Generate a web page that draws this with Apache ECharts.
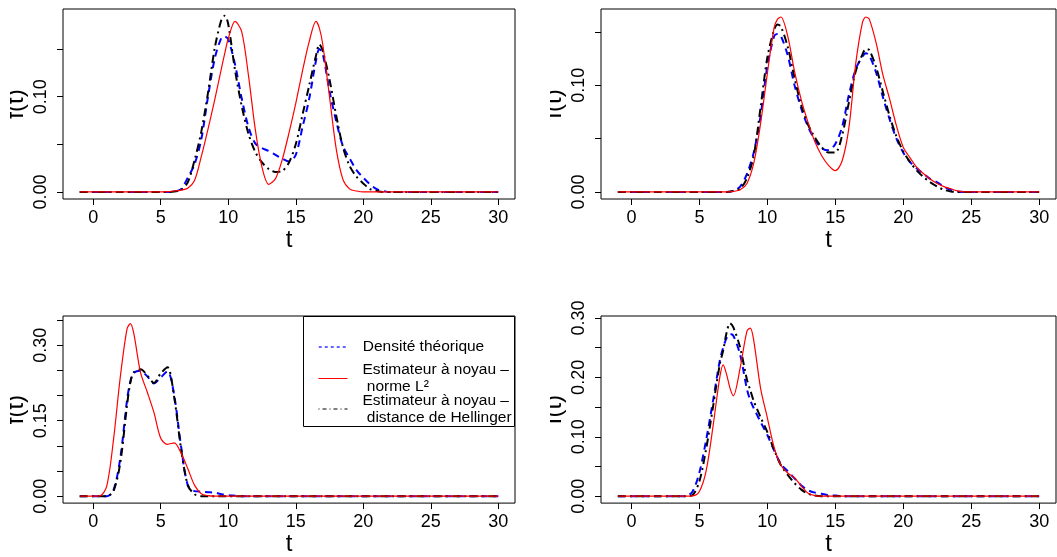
<!DOCTYPE html>
<html><head><meta charset="utf-8">
<script src="https://cdn.jsdelivr.net/npm/echarts@6/dist/echarts.min.js"></script>
<style>html,body{margin:0;padding:0;background:#fff}#c{width:1057px;height:557px}</style>
</head><body><div id="c"></div>
<script>
// ---------- data ----------
const seriesNames = ['Densité théorique', 'Estimateur à noyau – norme L²', 'Estimateur à noyau – distance de Hellinger'];
const xTickValues = [0, 5, 10, 15, 20, 25, 30];

// Panel 1 (top left)
const t1 = [-1,0,1,2,3,4, 5,5.5,6,6.5,7,7.5,8,8.5,9,9.5,9.75,10,10.5,11,11.5,12,12.5,13,13.5,14,14.5,15,15.5,16,16.5,16.75,17,17.5,18,18.5,19,19.5,20,20.5,21,21.5,22, 23,24,25,26,27,28,29,30];
const dens1 = [0,0,0,0,0,0, 0,0,0.0005,0.003,0.015,0.029,0.055,0.1,0.14,0.162,0.163,0.16,0.134,0.098,0.068,0.051,0.046,0.043,0.039,0.035,0.032,0.039,0.068,0.098,0.138,0.150,0.145,0.106,0.074,0.048,0.035,0.023,0.015,0.008,0.003,0.001,0, 0,0,0,0,0,0,0,0];
const l2_1 = [0,0,0,0,0,0, 0,0.0003,0.001,0.002,0.004,0.012,0.037,0.066,0.097,0.130,0.146,0.161,0.179,0.168,0.122,0.066,0.026,0.008,0.014,0.034,0.062,0.093,0.127,0.158,0.179,0.172,0.155,0.100,0.045,0.013,0.003,0.001,0,0,0,0,0, 0,0,0,0,0,0,0,0];
const hel1 = [0,0,0,0,0,0, 0,0,0.0005,0.002,0.01,0.033,0.063,0.104,0.151,0.181,0.185,0.176,0.128,0.09,0.061,0.042,0.031,0.024,0.021,0.022,0.031,0.05,0.081,0.112,0.143,0.155,0.148,0.118,0.08,0.047,0.027,0.016,0.009,0.003,0.001,0,0, 0,0,0,0,0,0,0,0];

// Panel 2 (top right)
const t2 = [-1,0,1,2,3,4,5,6, 7,7.5,8,8.5,9,9.5,10,10.5,10.75,11,11.5,12,12.5,13,13.5,14,14.5,15,15.5,16,16.5,17,17.25,17.5,18,18.5,19,19.5,20,20.5,21,21.5,22,22.5,23,23.5,24,24.5,25, 26,27,28,29,30];
const dens2 = [0,0,0,0,0,0,0,0, 0,0.001,0.005,0.017,0.037,0.071,0.118,0.146,0.148,0.146,0.128,0.1,0.078,0.061,0.049,0.041,0.039,0.045,0.061,0.091,0.115,0.127,0.13,0.128,0.112,0.089,0.068,0.05,0.037,0.028,0.022,0.017,0.012,0.009,0.005,0.002,0.0005,0,0, 0,0,0,0,0];
const l2_2 = [0,0,0,0,0,0,0,0, 0,0.0005,0.002,0.008,0.027,0.064,0.111,0.154,0.162,0.164,0.146,0.113,0.086,0.065,0.047,0.034,0.025,0.02,0.029,0.06,0.12,0.159,0.164,0.162,0.14,0.11,0.087,0.062,0.042,0.032,0.023,0.017,0.012,0.008,0.005,0.003,0.001,0,0, 0,0,0,0,0];
const hel2 = [0,0,0,0,0,0,0,0, 0,0.001,0.003,0.013,0.034,0.079,0.126,0.152,0.157,0.155,0.136,0.107,0.081,0.063,0.051,0.042,0.037,0.037,0.053,0.084,0.113,0.129,0.134,0.133,0.117,0.094,0.071,0.052,0.038,0.028,0.02,0.014,0.009,0.005,0.002,0.0005,0,0,0, 0,0,0,0,0];

// Panel 3 (bottom left)
const t3 = [-1,0,0.5,1,1.5,2,2.5,2.75,3,3.5,4,4.5,5,5.5,6,6.5,7,7.5,8,8.5,9,9.5,10,10.5,11, 12,13,14,15,16,17,18,19,20,21,22,23,24,25,26,27,28,29,30];
const dens3 = [0,0,0,0,0.012,0.075,0.19,0.228,0.245,0.249,0.238,0.224,0.236,0.248,0.2,0.1,0.022,0.01,0.009,0.008,0.007,0.004,0.002,0.001,0, 0,0,0,0,0,0,0,0,0,0,0,0,0,0,0,0,0,0,0];
const l2_3 = [0,0,0.0005,0.02,0.112,0.236,0.332,0.343,0.324,0.246,0.207,0.166,0.115,0.103,0.106,0.086,0.055,0.022,0.005,0.001,0,0,0,0,0, 0,0,0,0,0,0,0,0,0,0,0,0,0,0,0,0,0,0,0];
const hel3 = [0,0,0,0,0.01,0.066,0.18,0.226,0.246,0.252,0.24,0.225,0.244,0.256,0.196,0.095,0.022,0.004,0,0,0,0,0,0,0, 0,0,0,0,0,0,0,0,0,0,0,0,0,0,0,0,0,0,0];

// Panel 4 (bottom right)
const t4 = [-1,0,1,2,3,4, 4.5,5,5.5,6,6.5,6.75,7,7.25,7.5,8,8.5,8.75,9,9.5,10,10.5,11,11.5,12,12.5,13,13.5,14,14.5,15,15.5,16, 17,18,19,20,21,22,23,24,25,26,27,28,29,30];
const dens4 = [0,0,0,0,0,0, 0.008,0.04,0.095,0.16,0.228,0.25,0.266,0.273,0.27,0.238,0.18,0.161,0.148,0.125,0.103,0.077,0.054,0.042,0.03,0.018,0.01,0.006,0.004,0.002,0.001,0,0, 0,0,0,0,0,0,0,0,0,0,0,0,0,0];
const l2_4 = [0,0,0,0,0,0, 0.0005,0.008,0.043,0.117,0.2,0.221,0.205,0.182,0.169,0.216,0.278,0.283,0.262,0.182,0.132,0.082,0.052,0.039,0.031,0.017,0.005,0.001,0,0,0,0,0, 0,0,0,0,0,0,0,0,0,0,0,0,0,0];
const hel4 = [0,0,0,0,0,0, 0.002,0.025,0.08,0.15,0.222,0.245,0.275,0.291,0.284,0.25,0.196,0.178,0.16,0.133,0.108,0.078,0.052,0.036,0.022,0.011,0.004,0.001,0,0,0,0,0, 0,0,0,0,0,0,0,0,0,0,0,0,0,0];

const yTicks1 = [0, 0.05, 0.10, 0.15];
const yLabels1 = [0, 0.10];
const yTicks2 = [0, 0.05, 0.10, 0.15];
const yLabels2 = [0, 0.10];
const yTicks3 = [0, 0.05, 0.10, 0.15, 0.20, 0.25, 0.30, 0.35];
const yLabels3 = [0, 0.15, 0.30];
const yTicks4 = [0, 0.05, 0.10, 0.15, 0.20, 0.25, 0.30];
const yLabels4 = [0, 0.10, 0.20, 0.30];

// ---------- layout ----------
const FONT = '"Liberation Sans", Arial, Helvetica, sans-serif';
const panels = [
  {t: t1, d: dens1, l: l2_1, h: hel1, ymin: -0.00738, ymax: 0.192, ticks: yTicks1, labels: yLabels1, grid: {left: 63, top: 9, width: 452, height: 190}},
  {t: t2, d: dens2, l: l2_2, h: hel2, ymin: -0.0066, ymax: 0.1715, ticks: yTicks2, labels: yLabels2, grid: {left: 601, top: 9, width: 455, height: 190}},
  {t: t3, d: dens3, l: l2_3, h: hel3, ymin: -0.01377, ymax: 0.358, ticks: yTicks3, labels: yLabels3, grid: {left: 63, top: 316, width: 452, height: 190}},
  {t: t4, d: dens4, l: l2_4, h: hel4, ymin: -0.01166, ymax: 0.3033, ticks: yTicks4, labels: yLabels4, grid: {left: 601, top: 316, width: 455, height: 190}}
];

const grids = [], xAxes = [], yAxes = [], series = [];
panels.forEach((p, i) => {
  grids.push(Object.assign({show: true, borderColor: '#000', borderWidth: 1, backgroundColor: 'transparent', containLabel: false}, p.grid));
  xAxes.push({
    gridIndex: i, type: 'value', min: -2.24, max: 31.24, position: 'bottom',
    axisLine: {show: false, onZero: false}, splitLine: {show: false},
    axisTick: {show: true, inside: false, length: 6, lineStyle: {color: '#000', width: 1}, customValues: xTickValues},
    axisLabel: {show: true, customValues: xTickValues, fontSize: 18, color: '#000', fontFamily: FONT, margin: 10},
    name: 't', nameLocation: 'middle', nameGap: 25,
    nameTextStyle: {fontSize: 24, color: '#000', fontFamily: FONT}
  });
  yAxes.push({
    gridIndex: i, type: 'value', min: p.ymin, max: p.ymax, position: 'left',
    axisLine: {show: false, onZero: false}, splitLine: {show: false},
    axisTick: {show: true, inside: false, length: 6, lineStyle: {color: '#000', width: 1}, customValues: p.ticks},
    axisLabel: {show: true, customValues: p.labels, rotate: 90, fontSize: 18, color: '#000', fontFamily: FONT, margin: 13,
      formatter: v => Number(v).toFixed(2)},
    name: 'f(t)', nameLocation: 'middle', nameGap: 35, nameRotate: 90,
    nameTextStyle: {fontSize: 24, color: '#000', fontFamily: FONT}
  });
  const mk = (arr) => p.t.map((t, k) => [t, arr[k]]);
  series.push({type: 'line', name: seriesNames[0], xAxisIndex: i, yAxisIndex: i, data: mk(p.d), symbol: 'none', smooth: 0.3,
    lineStyle: {color: '#0000ff', width: 2, type: [7, 5]}, itemStyle: {color: '#0000ff'}, z: 2, silent: true});
  series.push({type: 'line', name: seriesNames[2], xAxisIndex: i, yAxisIndex: i, data: mk(p.h), symbol: 'none', smooth: 0.3,
    lineStyle: {color: '#000000', width: 2, type: [8, 4, 2, 4]}, itemStyle: {color: '#000000'}, z: 2, silent: true});
  series.push({type: 'line', name: seriesNames[1], xAxisIndex: i, yAxisIndex: i, data: mk(p.l), symbol: 'none', smooth: 0.3,
    lineStyle: {color: '#ff0000', width: 1.2, type: 'solid'}, itemStyle: {color: '#ff0000'}, z: 3, silent: true});
});

const legendText = {fontSize: 15.5, color: '#000', fontFamily: FONT, lineHeight: 17, padding: [0, 0, 0, 10]};
const hiddenSymbol = {color: 'rgba(0,0,0,0)', borderColor: 'rgba(0,0,0,0)', borderWidth: 0};
const legends = [
  {data: [seriesNames[0]], left: 318, top: 338.5, orient: 'vertical', padding: 0, itemWidth: 29, itemHeight: 15, selectedMode: false,
    textStyle: legendText, itemStyle: hiddenSymbol, lineStyle: {color: '#3333ff', width: 1.5, type: [3, 3], opacity: 1}, z: 10},
  {data: [seriesNames[1]], left: 318, top: 361.5, orient: 'vertical', padding: 0, itemWidth: 29, itemHeight: 14, selectedMode: false,
    formatter: () => 'Estimateur à noyau –\n norme L²', textStyle: legendText, itemStyle: hiddenSymbol, lineStyle: {color: '#ff0000', width: 1, type: 'solid', opacity: 1}, z: 10},
  {data: [seriesNames[2]], left: 318, top: 392, orient: 'vertical', padding: 0, itemWidth: 29, itemHeight: 14, selectedMode: false,
    formatter: () => 'Estimateur à noyau –\n distance de Hellinger', textStyle: legendText, itemStyle: hiddenSymbol, lineStyle: {color: '#000000', width: 1, type: [1, 3, 4, 3], opacity: 1}, z: 10}
];

const chart = echarts.init(document.getElementById('c'), null, {renderer: 'canvas'});
chart.setOption({
  animation: false,
  backgroundColor: '#fff',
  grid: grids, xAxis: xAxes, yAxis: yAxes, series: series,
  legend: legends,
  graphic: [
    {type: 'rect', shape: {x: 303.5, y: 316.5, width: 211, height: 110}, style: {fill: '#fff', stroke: '#000', lineWidth: 1}, z: 5},
    {type: 'rect', shape: {x: 0, y: 0, width: 10, height: 557}, style: {fill: '#fff'}, z: 100},
    {type: 'rect', shape: {x: 518, y: 0, width: 32, height: 557}, style: {fill: '#fff'}, z: 100}
  ]
});
</script></body></html>
